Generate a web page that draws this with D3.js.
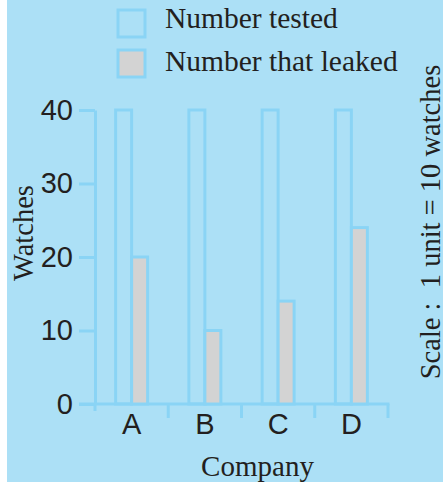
<!DOCTYPE html>
<html>
<head>
<meta charset="utf-8">
<script src="https://cdn.jsdelivr.net/npm/d3@7"></script>
<style>
  html, body { margin: 0; padding: 0; background: #ffffff; }
  svg { display: block; }
</style>
</head>
<body>
<svg id="chart" width="443" height="482"></svg>
<script>
const companies = ["A", "B", "C", "D"];
const numberTested = [40, 40, 40, 40];
const numberLeaked = [20, 10, 14, 24];
const yTicks = [0, 10, 20, 30, 40];
const seriesNames = ["Number tested", "Number that leaked"];

const bg = "#ACE0F6";
const edge = "#8AD4F5";
const grey = "#D3D3D3";
const ink = "#231F20";
const serif = "'Liberation Serif', 'Times New Roman', serif";
const sans = "'Liberation Sans', Arial, sans-serif";

const svg = d3.select("#chart");
svg.append("rect").attr("x", 7).attr("y", 0).attr("width", 436).attr("height", 482).attr("fill", bg);

const x = d3.scaleBand().domain(companies).range([95, 388]).padding(0);
const y = d3.scaleLinear().domain([0, 40]).range([404, 110]);
const barW = 16;

// Y axis
const yAxis = svg.append("g").attr("transform", "translate(95,0)")
  .call(d3.axisLeft(y).tickValues(yTicks).tickSize(16).tickSizeOuter(0).tickPadding(6));
yAxis.select(".domain").attr("stroke", edge).attr("stroke-width", 3);
yAxis.selectAll(".tick line").attr("stroke", edge).attr("stroke-width", 3);
yAxis.selectAll(".tick text").attr("fill", ink).style("font-family", sans).style("font-size", "29px");

// extend y axis slightly below baseline
svg.append("line").attr("x1", 95).attr("x2", 95).attr("y1", y(0)).attr("y2", y(0) + 7)
  .attr("stroke", edge).attr("stroke-width", 3);

// X baseline
svg.append("line").attr("x1", 79).attr("x2", x.range()[1] + 1.5).attr("y1", y(0)).attr("y2", y(0))
  .attr("stroke", edge).attr("stroke-width", 3);

// category separators
const bounds = companies.map(c => x(c)).slice(1).concat([x.range()[1]]);
svg.selectAll("line.sep").data(bounds).enter().append("line").attr("class", "sep")
  .attr("x1", d => d).attr("x2", d => d).attr("y1", y(0)).attr("y2", y(0) + 14)
  .attr("stroke", edge).attr("stroke-width", 3);

// category labels
const xAxis = svg.append("g").attr("transform", `translate(0,${y(0)})`)
  .call(d3.axisBottom(x).tickSize(0).tickPadding(9));
xAxis.select(".domain").remove();
xAxis.selectAll(".tick text").attr("fill", ink).style("font-family", sans).style("font-size", "29px");

// bars
const g = svg.append("g");
companies.forEach((c, i) => {
  const cx = x(c) + x.bandwidth() / 2;
  g.append("rect").attr("x", cx - barW).attr("y", y(numberTested[i]))
    .attr("width", barW).attr("height", y(0) - y(numberTested[i]))
    .attr("fill", "none").attr("stroke", edge).attr("stroke-width", 3);
  g.append("rect").attr("x", cx).attr("y", y(numberLeaked[i]))
    .attr("width", barW).attr("height", y(0) - y(numberLeaked[i]))
    .attr("fill", grey).attr("stroke", edge).attr("stroke-width", 3);
});

// legend
const legendFills = ["none", grey];
seriesNames.forEach((name, i) => {
  const yy = 10 + i * 40;
  svg.append("rect").attr("x", 118).attr("y", yy).attr("width", 27).attr("height", 27)
    .attr("fill", legendFills[i]).attr("stroke", edge).attr("stroke-width", 3);
  svg.append("text").attr("x", 165).attr("y", 28 + i * 43).text(name)
    .attr("fill", ink).style("font-family", serif).style("font-size", "29.5px");
});

// axis titles
svg.append("text").attr("transform", "translate(33,233) rotate(-90)").attr("text-anchor", "middle")
  .text("Watches").attr("fill", ink).style("font-family", serif).style("font-size", "28.5px");
svg.append("text").attr("x", 257.5).attr("y", 476).attr("text-anchor", "middle")
  .text("Company").attr("fill", ink).style("font-family", serif).style("font-size", "29px");
svg.append("text").attr("transform", "translate(440,222) rotate(-90)").attr("text-anchor", "middle")
  .attr("xml:space", "preserve")
  .text("Scale :\u00A0 1 unit = 10 watches").attr("fill", ink).style("font-family", serif).style("font-size", "28.5px");
</script>
</body>
</html>
